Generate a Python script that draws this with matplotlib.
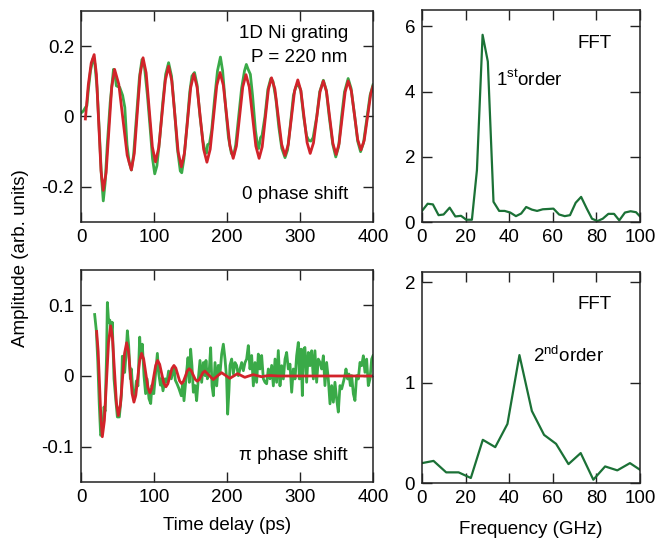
import matplotlib
matplotlib.use("Agg")
import matplotlib.pyplot as plt

plt.rcParams['font.family'] = ['Liberation Sans', 'DejaVu Sans']
plt.rcParams['mathtext.fontset'] = 'custom'
plt.rcParams['mathtext.rm'] = 'Liberation Sans'
plt.rcParams['axes.unicode_minus'] = False

# ---------------- data ----------------
# 0 phase shift: measured (green) and fit (red)
t0_data = [0, 3, 6.5, 8, 10, 13, 16.5, 19, 22, 25, 28, 30.5, 33, 36, 40, 44.5, 47, 48.5, 53, 57, 60,
           63, 66, 69, 72, 76, 80, 83.5, 87, 91, 95, 98, 101, 104, 108, 112, 116, 120, 124, 128, 132,
           136, 138, 141, 145, 149, 152, 155.5, 159, 163, 167, 170, 172, 173.5, 176, 179, 183, 187,
           191, 194, 198, 202, 206, 209, 212, 216, 220, 224, 226.5, 229, 232, 235, 239, 242, 243.5,
           246, 248, 252, 256, 260, 263, 267, 271, 275, 279.5, 283, 287, 291, 294, 296, 298, 301,
           305, 309, 312, 315, 318, 323, 327, 332, 336, 340, 345, 349, 353, 357, 361, 366, 370, 375,
           379, 383, 387, 392, 396, 400]
y0_data = [0.010, 0.015, 0.027, 0.030, 0.075, 0.130, 0.165, 0.150, 0.080, -0.040, -0.170, -0.240,
           -0.190, -0.080, 0.040, 0.134, 0.110, 0.087, 0.083, 0.060, 0.026, -0.080, -0.130, -0.152,
           -0.110, 0.000, 0.110, 0.162, 0.140, 0.060, -0.040, -0.120, -0.163, -0.140, -0.060, 0.040,
           0.120, 0.153, 0.115, 0.020, -0.090, -0.155, -0.160, -0.120, -0.030, 0.070, 0.115, 0.125,
           0.090, 0.000, -0.070, -0.100, -0.104, -0.080, -0.077, -0.040, 0.050, 0.130, 0.169, 0.130,
           0.030, -0.060, -0.105, -0.112, -0.080, 0.000, 0.080, 0.130, 0.148, 0.134, 0.120, 0.060,
           -0.040, -0.085, -0.091, -0.060, -0.054, 0.000, 0.077, 0.108, 0.100, 0.050, -0.030, -0.090,
           -0.117, -0.095, -0.020, 0.060, 0.082, 0.090, 0.090, 0.075, 0.000, -0.055, -0.068, -0.070,
           -0.060, 0.000, 0.070, 0.103, 0.075, 0.000, -0.080, -0.115, -0.085, 0.000, 0.070, 0.108,
           0.080, 0.000, -0.070, -0.100, -0.075, 0.000, 0.060, 0.090]

t0_fit = [6, 10, 14, 18, 21.1, 24.25, 27.4, 30.5, 34.4, 38.25, 42.1, 46, 51.75, 57.5, 63.25, 69,
          73, 77, 81, 85, 89.25, 93.5, 97.75, 102, 106.5, 111, 115.5, 120, 124.4, 128.75, 133.1,
          137.5, 141.75, 146, 150.25, 154.5, 159, 163.5, 168, 172.5, 177, 181.5, 186, 190.5, 195,
          199.5, 204, 208.5, 212.9, 217.25, 221.6, 226, 230.5, 235, 239.5, 244, 248.25, 252.5,
          256.75, 261, 265.6, 270.25, 274.9, 279.5, 283.9, 288.25, 292.6, 297, 301.25, 305.5,
          309.75, 314, 318.5, 323, 327.5, 332, 336.4, 340.75, 345.1, 349.5, 353.6, 357.75, 361.9,
          366, 370.4, 374.75, 379.1, 383.5, 388, 392.5, 397, 400]
y0_fit = [-0.007, 0.090, 0.152, 0.176, 0.120, -0.017, -0.154, -0.210, -0.160, -0.038, 0.084, 0.134,
          0.092, -0.009, -0.110, -0.152, -0.105, 0.0075, 0.120, 0.167, 0.124, 0.019, -0.086, -0.129,
          -0.089, 0.007, 0.103, 0.143, 0.101, 0.000, -0.101, -0.143, -0.104, -0.011, 0.082, 0.121,
          0.084, -0.0045, -0.093, -0.130, -0.093, -0.0025, 0.088, 0.125, 0.089, 0.003, -0.083,
          -0.119, -0.084, 0.000, 0.084, 0.119, 0.084, 0.000, -0.084, -0.119, -0.086, -0.0045, 0.077,
          0.110, 0.078, -0.0005, -0.079, -0.111, -0.080, -0.0035, 0.073, 0.104, 0.073, -0.0005,
          -0.074, -0.105, -0.075, -0.002, 0.071, 0.101, 0.070, -0.0035, -0.077, -0.108, -0.077,
          -0.0035, 0.070, 0.101, 0.072, 0.003, -0.066, -0.095, -0.068, -0.0015, 0.065, 0.086]

# pi phase shift: measured (green) and fit (red)
tpi_data = [18.7, 21, 23, 25, 26.9, 28.5, 30.1, 31.5, 33, 35, 36.1, 37.9, 39.5, 41.5, 42.8, 45.2,
            47.5, 49.8, 52.5, 55.3, 56.6, 58.2, 59.8, 61.5, 63.5, 65.3, 67.6, 69, 71.2, 73.5, 75.8,
            78, 80.4, 81.8, 84, 86.3, 88.5, 90.5, 93.1, 95.5, 97.2, 99.7, 102.3, 104.6, 106.5, 108.8,
            110.2, 112.3, 115.4, 117.7, 120, 123.7, 127.4, 129.2, 131.5, 134.2, 137.4, 139.3, 141.1,
            144.2, 146.6, 148.4, 150.2, 152, 153.9, 156.2, 158.4, 160.7, 163, 165.3, 167.6, 169.9,
            171.2, 173.1, 175.8, 177.6, 179.5, 181.3, 183.6, 185.9, 188.1, 190.4, 192.7, 195, 197.3,
            199.5, 200.9, 202.7, 204.1, 206.4, 208.7, 211, 213.2, 215.5, 217.8, 220.1, 222.4, 224.7,
            226.9, 229.2, 231.5, 233.8, 236.1, 238.4, 240.6, 242.9, 245.2, 247.5, 249.8, 252.1,
            254.3, 256.6, 258.9, 261.2, 263.5, 265.8, 268, 270.3, 272.6, 274.9, 277.2, 279.5, 281.7,
            284, 286.3, 288.6, 290.9, 293.2, 295.4, 297.7, 299.1, 301.4, 303.2, 305, 306.8, 309.1,
            311.4, 313.7, 316, 318.3, 320.5, 322.8, 325.1, 327.4, 329.7, 332, 334.2, 336.5, 338.8,
            341.1, 343.4, 345.7, 347.9, 350.2, 352.5, 354.8, 357.1, 359.4, 361.6, 363, 365.3, 367.1,
            369, 370.8, 373.1, 375.3, 377.6, 379.9, 382.2, 384.5, 386.8, 389, 391.3, 393.6, 395.9,
            398.2, 400]
ypi_data = [0.087, 0.064, 0.020, -0.040, -0.084, -0.082, -0.070, -0.044, -0.050, 0.030, 0.104, 0.076,
            0.079, 0.061, 0.076, -0.004, -0.032, -0.058, -0.058, -0.027, 0.028, 0.010, 0.005, 0.028,
            0.064, 0.043, -0.004, 0.010, -0.025, -0.032, -0.007, -0.014, 0.055, 0.026, 0.045, 0.000,
            -0.025, -0.004, -0.032, -0.039, -0.013, -0.025, 0.005, 0.032, 0.003, -0.013, -0.004,
            -0.021, -0.004, -0.009, 0.007, -0.004, 0.013, -0.006, -0.011, -0.018, -0.028, -0.010,
            -0.035, 0.001, 0.026, -0.009, 0.038, 0.0146, -0.023, -0.0136, -0.035, -0.004, 0.022,
            -0.009, 0.019, 0.0005, 0.022, -0.004, 0.0099, 0.040, -0.014, -0.028, 0.019, -0.014, 0.015,
            0.003, 0.031, 0.045, 0.024, -0.004, -0.054, -0.021, 0.015, 0.024, 0.003, 0.019, 0.015,
            0.0005, 0.0099, 0.019, 0.0075, 0.019, 0.024, 0.043, 0.0099, 0.029, -0.014, 0.019, -0.009,
            0.031, 0.0099, 0.029, -0.004, -0.009, -0.011, 0.0099, -0.004, 0.015, -0.014, 0.024,
            -0.009, 0.036, -0.014, 0.0146, -0.0042, 0.0239, 0.0333, 0.0099, 0.0168, -0.023, 0.0099,
            -0.0042, 0.0286, 0.0474, -0.0042, 0.038, -0.0277, 0.038, 0.0404, -0.0089, 0.0333, 0.0146,
            0.0357, -0.0042, 0.0357, -0.0089, 0.0239, 0.0192, 0.0099, 0.0286, -0.0136, 0.0192,
            -0.0042, -0.0394, -0.0136, -0.0371, -0.0089, -0.0324, -0.0511, -0.0136, -0.0183, -0.0089,
            0.0005, 0.0099, -0.0042, 0.0028, -0.0136, 0.0005, -0.0253, -0.0347, 0.0005, -0.0042,
            0.0192, 0.0146, 0.0286, 0.0052, 0.0239, -0.0136, -0.0042, 0.0239, 0.0286]

tpi_fit = [21.4, 23.5, 25.3, 27.3, 29.2, 32.05, 34.9, 37.75, 40.6, 43.2, 45.85, 48.5, 51.1, 53.95,
           56.8, 59.65, 62.5, 65, 67.5, 70, 72.5, 75.1, 77.75, 80.4, 83, 85.85, 88.7, 91.55, 94.4, 97,
           99.65, 102.3, 104.9, 107.75, 110.6, 113.45, 116.3, 119, 121.8, 124.5, 127.3, 129.9, 132.5,
           135.1, 137.7, 140.3, 143, 145.6, 148.2, 151, 153.7, 156.5, 159.2, 161.8, 164.5, 167.1,
           169.7, 175.4, 181.1, 186.8, 192.5, 198.2, 203.9, 209.2, 214.4, 219.4, 224.4, 230, 235.8,
           241.5, 247.2, 253, 258.6, 270, 400]
ypi_fit = [0.063, 0.035, -0.010, -0.060, -0.086, -0.063, -0.0075, 0.048, 0.071, 0.0525, 0.0075,
           -0.0375, -0.056, -0.041, -0.0045, 0.032, 0.047, 0.035, 0.005, -0.025, -0.037, -0.027,
           -0.0025, 0.022, 0.032, 0.024, 0.004, -0.016, -0.024, -0.017, -0.001, 0.015, 0.022, 0.0165,
           0.003, -0.010, -0.0153, -0.011, 0.000, 0.0105, 0.0149, 0.0112, 0.0021, -0.007, -0.0107,
           -0.0077, -0.0003, 0.0072, 0.0102, 0.0076, 0.0014, -0.0048, -0.0074, -0.0053, -0.0002,
           0.0049, 0.0070, 0.0010, -0.0051, 0.0000, 0.0047, 0.0007, -0.0033, 0.0000, 0.0033, 0.0007,
           -0.0019, 0.0000, 0.0019, 0.0004, -0.0010, 0.0000, 0.0007, 0.0000, 0.0000]

# FFT spectra
f_fft1 = [0, 2.6, 5.0, 7.6, 9.9, 12.7, 15.3, 17.9, 20.3, 22.9, 25.2, 27.8, 30.2, 32.8, 35.4, 37.9,
          40.5, 43.1, 45.5, 47.8, 50.4, 52.8, 55.4, 58.0, 60.3, 62.9, 65.5, 67.9, 70.5, 73.0, 75.6,
          78.0, 80.5, 82.9, 85.5, 88.1, 90.5, 93.1, 95.7, 98.2, 100]
a_fft1 = [0.34, 0.56, 0.54, 0.21, 0.23, 0.44, 0.17, 0.19, 0.07, 0.07, 1.59, 5.74, 4.92, 0.62, 0.34,
          0.34, 0.29, 0.18, 0.26, 0.46, 0.38, 0.34, 0.39, 0.40, 0.41, 0.23, 0.18, 0.21, 0.59, 0.77,
          0.41, 0.10, 0.03, 0.10, 0.25, 0.25, 0.05, 0.29, 0.33, 0.30, 0.17]

f_fft2 = [0, 5.3, 11.1, 16.8, 22.4, 27.9, 33.6, 39.2, 44.7, 50.4, 56.0, 61.5, 67.2, 72.8, 78.6,
          84.0, 89.6, 95.4, 100]
a_fft2 = [0.198, 0.22, 0.106, 0.106, 0.05, 0.43, 0.357, 0.588, 1.273, 0.717, 0.479, 0.39, 0.188,
          0.298, 0.033, 0.165, 0.126, 0.198, 0.132]

# ticks
t_ticks = [0, 100, 200, 300, 400]
y0_ticks = [-0.2, 0, 0.2]
y0_labels = ['-0.2', '0', '0.2']
ypi_ticks = [-0.1, 0, 0.1]
ypi_labels = ['-0.1', '0', '0.1']
f_ticks = [0, 20, 40, 60, 80, 100]
a1_ticks = [0, 2, 4, 6]
a2_ticks = [0, 1, 2]

# ---------------- style ----------------
GREEN = '#3aaa48'
RED = '#d2232a'
DKGREEN = '#1b7136'
FS = 13.5

fig = plt.figure(figsize=(6.57, 5.44), dpi=100)
ax1 = fig.add_axes([0.1233, 0.5919, 0.4444, 0.3879])
ax2 = fig.add_axes([0.1233, 0.1140, 0.4444, 0.3897])
ax3 = fig.add_axes([0.6423, 0.5919, 0.3318, 0.3897])
ax4 = fig.add_axes([0.6423, 0.1121, 0.3318, 0.3879])

for ax in (ax1, ax2, ax3, ax4):
    ax.tick_params(direction='in', length=7, width=1.0, top=True, right=True,
                   labelsize=FS, pad=5, colors='#222222', labelcolor='black')
    for s in ax.spines.values():
        s.set_linewidth(1.1)
        s.set_color('#222222')

ax1.plot(t0_data, y0_data, color=GREEN, lw=2.0, solid_joinstyle='round')
ax1.plot(t0_fit, y0_fit, color=RED, lw=2.0, solid_joinstyle='round')
ax1.set_xlim(0, 400)
ax1.set_ylim(-0.3, 0.3)
ax1.set_xticks(t_ticks)
ax1.set_yticks(y0_ticks)
ax1.set_yticklabels(y0_labels)

ax2.plot(tpi_data, ypi_data, color=GREEN, lw=2.0, solid_joinstyle='round')
ax2.plot(tpi_fit, ypi_fit, color=RED, lw=2.0, solid_joinstyle='round')
ax2.set_xlim(0, 400)
ax2.set_ylim(-0.15, 0.15)
ax2.set_xticks(t_ticks)
ax2.set_yticks(ypi_ticks)
ax2.set_yticklabels(ypi_labels)

ax3.plot(f_fft1, a_fft1, color=DKGREEN, lw=1.6)
ax3.set_xlim(0, 100)
ax3.set_ylim(0, 6.5)
ax3.set_xticks(f_ticks)
ax3.set_yticks(a1_ticks)

ax4.plot(f_fft2, a_fft2, color=DKGREEN, lw=1.6)
ax4.set_xlim(0, 100)
ax4.set_ylim(0, 2.1)
ax4.set_xticks(f_ticks)
ax4.set_yticks(a2_ticks)

# annotations
ax1.text(0.914, 0.871, '1D Ni grating', transform=ax1.transAxes, ha='right', va='baseline', fontsize=FS)
ax1.text(0.914, 0.760, 'P = 220 nm', transform=ax1.transAxes, ha='right', va='baseline', fontsize=FS)
ax1.text(0.914, 0.109, '0 phase shift', transform=ax1.transAxes, ha='right', va='baseline', fontsize=FS)
ax2.text(0.914, 0.104, 'π phase shift', transform=ax2.transAxes, ha='right', va='baseline', fontsize=FS)
ax3.text(0.872, 0.821, 'FFT', transform=ax3.transAxes, ha='right', va='baseline', fontsize=FS)
ax3.text(0.339, 0.642, r'1$^{\mathrm{st}}$order', transform=ax3.transAxes, ha='left', va='baseline', fontsize=FS)
ax4.text(0.872, 0.823, 'FFT', transform=ax4.transAxes, ha='right', va='baseline', fontsize=FS)
ax4.text(0.509, 0.575, r'2$^{\mathrm{nd}}$order', transform=ax4.transAxes, ha='left', va='baseline', fontsize=FS)

fig.text(0.346, 1 - 525 / 544, 'Time delay (ps)', ha='center', va='center', fontsize=FS)
fig.text(0.808, 1 - 529 / 544, 'Frequency (GHz)', ha='center', va='center', fontsize=FS)
fig.text(0.031, 1 - 258 / 544, 'Amplitude (arb. units)', ha='center', va='center', rotation=90, fontsize=FS)

fig.savefig('out.png', dpi=100)
